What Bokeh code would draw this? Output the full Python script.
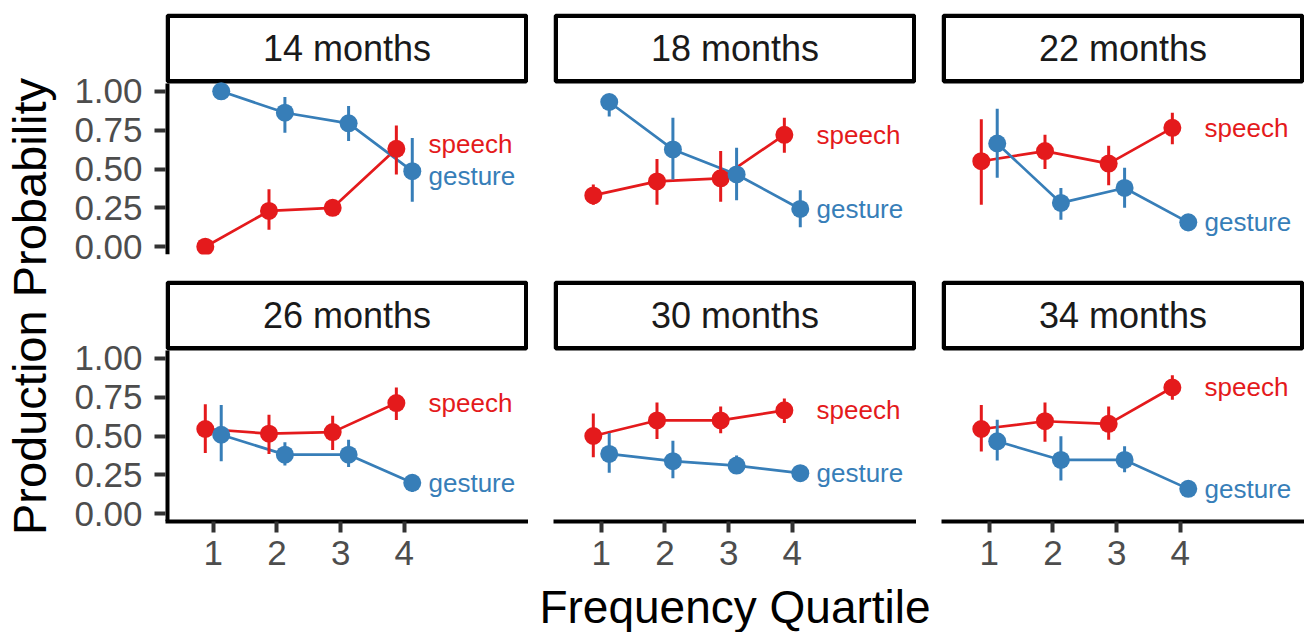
import math
from bokeh.plotting import figure
from bokeh.layouts import row, column
from bokeh.models import Range1d, FixedTicker, PrintfTickFormatter
from bokeh.embed import file_html
from bokeh.resources import INLINE
from bokeh.core.properties import value

# ---------------- data ----------------
months = ["14 months", "18 months", "22 months", "26 months", "30 months", "34 months"]
quartiles = [1, 2, 3, 4]

speech_mean = [
    [0.00, 0.23, 0.25, 0.63],
    [0.33, 0.42, 0.44, 0.72],
    [0.55, 0.615, 0.535, 0.765],
    [0.545, 0.515, 0.525, 0.712],
    [0.50, 0.60, 0.60, 0.665],
    [0.545, 0.595, 0.578, 0.812],
]
speech_lo = [
    [0.00, 0.11, 0.20, 0.465],
    [0.27, 0.27, 0.29, 0.605],
    [0.27, 0.50, 0.395, 0.66],
    [0.39, 0.385, 0.41, 0.603],
    [0.363, 0.48, 0.517, 0.583],
    [0.40, 0.463, 0.476, 0.733],
]
speech_hi = [
    [0.00, 0.37, 0.29, 0.78],
    [0.40, 0.565, 0.615, 0.83],
    [0.82, 0.72, 0.65, 0.862],
    [0.705, 0.637, 0.63, 0.812],
    [0.645, 0.716, 0.69, 0.742],
    [0.70, 0.716, 0.69, 0.891],
]
gesture_mean = [
    [1.00, 0.862, 0.794, 0.486],
    [0.931, 0.626, 0.465, 0.243],
    [0.664, 0.282, 0.378, 0.157],
    [0.508, 0.38, 0.38, 0.199],
    [0.385, 0.338, 0.31, 0.261],
    [0.466, 0.346, 0.346, 0.16],
]
gesture_lo = [
    [1.00, 0.733, 0.68, 0.29],
    [0.837, 0.432, 0.299, 0.125],
    [0.443, 0.174, 0.25, 0.10],
    [0.338, 0.31, 0.30, 0.14],
    [0.263, 0.229, 0.256, 0.24],
    [0.342, 0.214, 0.267, 0.145],
]
gesture_hi = [
    [1.00, 0.963, 0.905, 0.70],
    [0.97, 0.83, 0.637, 0.363],
    [0.888, 0.378, 0.508, 0.20],
    [0.70, 0.46, 0.476, 0.245],
    [0.519, 0.47, 0.374, 0.28],
    [0.604, 0.498, 0.434, 0.175],
]
series_names = ["speech", "gesture"]
y_ticks = [0.0, 0.25, 0.5, 0.75, 1.0]
x_ticks = [1, 2, 3, 4]
y_title = "Production Probability"
x_title = "Frequency Quartile"

# ---------------- style / layout ----------------
RED = "#E41A1C"
BLUE = "#377EB8"
FONT = "Liberation Sans"
FW = 363          # panel frame width
FH = 171          # panel frame height
YAX = 97          # y axis area width
GAP = 25          # gap between columns
STRIP_H = 70
ROWGAP = 26
XAX = 59
TOP = 13
YT_W = 68
TOTAL_H = 632
XT_H = TOTAL_H - TOP - 2 * (STRIP_H + FH) - ROWGAP - XAX
DODGE = 0.125
LABEL_X = 4.38
X_RANGE = (0.25, 5.95)
Y_RANGE = (-0.05, 1.05)
STRIP_LW = 4.5

PX_PER_Y = FH / (Y_RANGE[1] - Y_RANGE[0])
PX_PER_X = FW / (X_RANGE[1] - X_RANGE[0])
Y_TOP = Y_RANGE[1] + STRIP_H / PX_PER_Y   # frame also holds the facet strip


def base_fig(**kw):
    p = figure(toolbar_location=None, output_backend="svg", title_location=None, **kw)
    p.outline_line_color = None
    p.grid.visible = False
    p.background_fill_color = "white"
    p.border_fill_color = "white"
    return p


def style_axis(ax):
    ax.axis_line_color = "black"
    ax.axis_line_width = 4
    ax.major_tick_line_color = "#333333"
    ax.major_tick_line_width = 4
    ax.major_tick_out = 11
    ax.major_tick_in = 0
    ax.minor_tick_line_color = None
    ax.major_label_text_font = FONT
    ax.major_label_text_font_size = "35px"
    ax.major_label_text_color = "#4D4D4D"


def label_positions(a, b, min_sep=0.2):
    if abs(a - b) >= min_sep:
        return a, b
    mid = (a + b) / 2
    if a >= b:
        return mid + min_sep / 2, mid - min_sep / 2
    return mid - min_sep / 2, mid + min_sep / 2


def panel(i, r, c):
    left_b = YAX if c == 0 else GAP
    top_b = TOP if r == 0 else 0
    bottom_b = ROWGAP if r == 0 else XAX
    p = base_fig(width=left_b + FW, height=top_b + STRIP_H + FH + bottom_b,
                 x_range=Range1d(*X_RANGE), y_range=Range1d(Y_RANGE[0], Y_TOP),
                 x_axis_location="below" if r == 1 else None,
                 y_axis_location="left" if c == 0 else None,
                 min_border_left=left_b, min_border_right=0,
                 min_border_top=top_b, min_border_bottom=bottom_b)
    if c == 0:
        ax = p.yaxis[0]
        style_axis(ax)
        ax.axis_line_color = None
        ax.ticker = FixedTicker(ticks=y_ticks)
        ax.formatter = PrintfTickFormatter(format="%.2f")
        ax.major_label_standoff = 12
        # axis line only along the panel (not the strip); half is clipped at the frame edge
        p.segment(x0=[X_RANGE[0]], y0=[Y_RANGE[0]], x1=[X_RANGE[0]], y1=[Y_RANGE[1]],
                  line_color="black", line_width=8)
    if r == 1:
        ax = p.xaxis[0]
        style_axis(ax)
        ax.ticker = FixedTicker(ticks=x_ticks)
        ax.major_label_standoff = 8

    # facet strip
    ix = (STRIP_LW / 2) / PX_PER_X
    iy = (STRIP_LW / 2) / PX_PER_Y
    p.quad(left=[X_RANGE[0] + ix], right=[X_RANGE[1] - ix],
           bottom=[Y_RANGE[1] + iy], top=[Y_TOP - iy],
           fill_color="white", line_color="black", line_width=STRIP_LW)
    p.text(x=[(X_RANGE[0] + X_RANGE[1]) / 2], y=[(Y_RANGE[1] + Y_TOP) / 2], text=[months[i]],
           text_align="center", text_baseline="middle",
           text_font=value(FONT), text_font_size="36px", text_color="#1A1A1A")

    xs_s = [q - DODGE for q in quartiles]
    xs_g = [q + DODGE for q in quartiles]
    sm, slo, shi = speech_mean[i], speech_lo[i], speech_hi[i]
    gm, glo, ghi = gesture_mean[i], gesture_lo[i], gesture_hi[i]

    p.line(xs_s, sm, line_color=RED, line_width=2.7)
    p.line(xs_g, gm, line_color=BLUE, line_width=2.7)
    p.segment(x0=xs_s, y0=slo, x1=xs_s, y1=shi, line_color=RED, line_width=3)
    p.scatter(xs_s, sm, size=18, fill_color=RED, line_color=None)
    p.segment(x0=xs_g, y0=glo, x1=xs_g, y1=ghi, line_color=BLUE, line_width=3)
    p.scatter(xs_g, gm, size=18, fill_color=BLUE, line_color=None)

    ys, yg = label_positions(sm[-1], gm[-1])
    p.text(x=[LABEL_X, LABEL_X], y=[ys, yg], text=series_names,
           text_color=[RED, BLUE], text_align="left", text_baseline="middle",
           text_font=value(FONT), text_font_size="26px")
    return p


panels = [panel(i, i // 3, i % 3) for i in range(6)]
panel_row1 = row(*panels[0:3])
panel_row2 = row(*panels[3:6])

XT_W = YAX + 3 * FW + 2 * GAP
xt = base_fig(width=XT_W, height=XT_H, x_range=Range1d(0, XT_W), y_range=Range1d(0, XT_H),
              x_axis_location=None, y_axis_location=None, min_border=0)
xt.text(x=[YAX + (3 * FW + 2 * GAP) / 2], y=[XT_H / 2], text=[x_title], text_align="center",
        text_baseline="middle", text_font=value(FONT), text_font_size="46px",
        text_color="black")

yt = base_fig(width=YT_W, height=TOTAL_H, x_range=Range1d(0, YT_W), y_range=Range1d(0, TOTAL_H),
              x_axis_location=None, y_axis_location=None, min_border=0)
yt.text(x=[29], y=[TOTAL_H - 306], text=[y_title], angle=math.pi / 2, text_align="center",
        text_baseline="middle", text_font=value(FONT), text_font_size="47px",
        text_color="black")

right = column(panel_row1, panel_row2, xt)
layout = row(yt, right)

open("out.html", "w").write(file_html(layout, INLINE))
